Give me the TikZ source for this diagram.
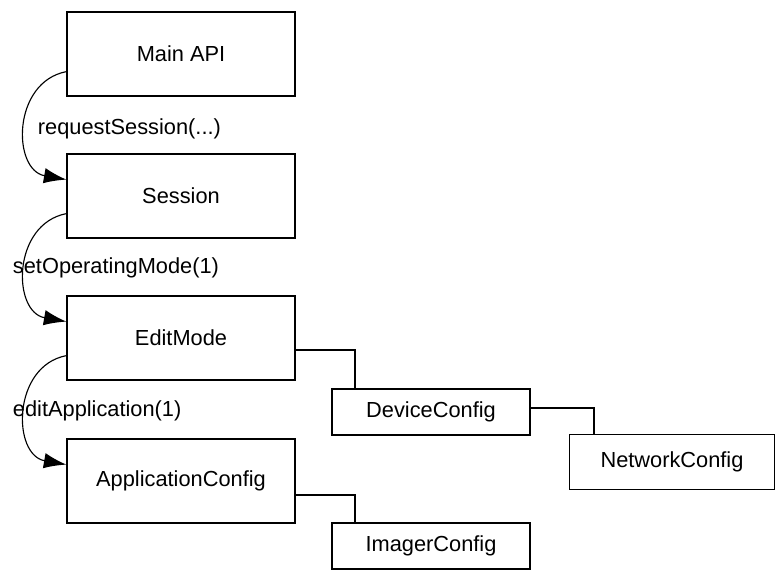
\documentclass[tikz,border=0pt]{standalone}
\usepackage{fontspec}
\setmainfont{Liberation Sans}
\usetikzlibrary{arrows.meta}
\begin{document}
\begin{tikzpicture}[x=0.025cm,y=-0.025cm,
    font=\fontsize{15.5}{18}\selectfont,
    big/.style={draw, thick, minimum width=5.7cm, minimum height=2.1cm, inner sep=0pt},
    small/.style={draw, thick, minimum width=4.95cm, minimum height=1.15cm, inner sep=0pt},
    call/.style={thick, -{Latex[length=16pt,width=11pt]}},
    link/.style={thick}]
        \useasboundingbox (0,0) rectangle (776,581);
        % main chain
        \node[big] (main) at (181,54) {Main API};
        \node[big] (session) at (181,196) {Session};
        \node[big] (edit) at (181,338) {EditMode};
        \node[big] (app) at (181,481) {ApplicationConfig};

        % config boxes
        \node[small] (device) at (431,412) {DeviceConfig};
        \node[small, minimum width=5.125cm, minimum height=1.375cm] (network) at (672,462) {NetworkConfig};
        \node[small] (imager) at (431,546) {ImagerConfig};

        % calls
        \draw[call] ([yshift=-0.44cm]main.west) .. controls (12,82) and (12,170) .. ([yshift=0.41cm]session.west);
        \node[anchor=west] at (33,129) {requestSession(...)};
        \draw[call] ([yshift=-0.44cm]session.west) .. controls (12,224) and (12,312) .. ([yshift=0.41cm]edit.west);
        \node[anchor=west] at (8,268) {setOperatingMode(1)};
        \draw[call] ([yshift=-0.44cm]edit.west) .. controls (12,366) and (12,455) .. ([yshift=0.41cm]app.west);
        \node[anchor=west] at (8,411) {editApplication(1)};

        % tree links
        \draw[link] ([yshift=-0.3cm]edit.east) -| ([xshift=-1.9cm]device.north);
        \draw[link] ([yshift=0.1cm]device.east) -| ([xshift=-1.95cm]network.north);
        \draw[link] ([yshift=-0.35cm]app.east) -| ([xshift=-1.9cm]imager.north);
\end{tikzpicture}
\end{document}
